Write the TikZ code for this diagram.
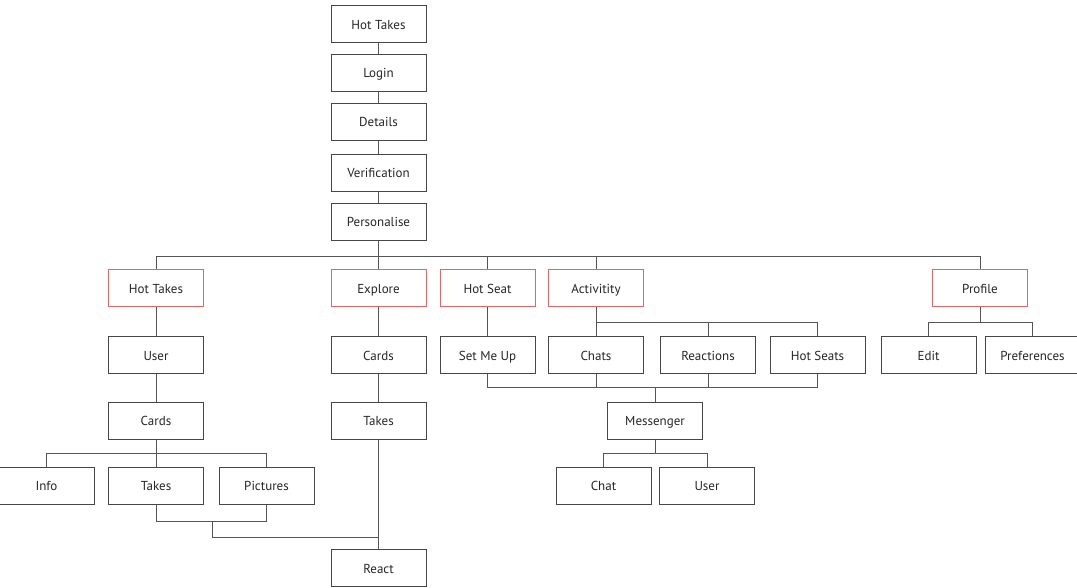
\documentclass[tikz,border=0pt]{standalone}
\usepackage{fontspec}
\setmainfont{PT Sans}
\definecolor{boxline}{RGB}{70,70,70}
\definecolor{wire}{RGB}{85,85,85}
\definecolor{redline}{RGB}{226,100,100}
\begin{document}
\begin{tikzpicture}[x=1pt,y=-1pt,
  box/.style={draw=boxline,line width=1pt,fill=white,minimum width=95pt,minimum height=37pt,inner sep=0pt,text height=11pt,text depth=1pt,font=\fontsize{13}{15}\selectfont,text=black!85},
  redbox/.style={box,draw=redline},
  wireline/.style={draw=wire,line width=1pt}]
\useasboundingbox (0,0) rectangle (1077,588);
% top column
\node[box] (ht0) at (378.5,24.5) {Hot Takes};
\node[box] (login) at (378.5,73) {Login};
\node[box] (details) at (378.5,122) {Details};
\node[box] (verif) at (378.5,173) {Verification};
\node[box] (pers) at (378.5,222) {Personalise};
% level 2
\node[redbox] (hot) at (156,288.5) {Hot Takes};
\node[redbox] (explore) at (378.5,288.5) {Explore};
\node[redbox] (hotseat) at (487.5,288.5) {Hot Seat};
\node[redbox] (activ) at (596,288.5) {Activitity};
\node[redbox] (profile) at (980,288.5) {Profile};
% level 3
\node[box] (user) at (156,355) {User};
\node[box] (cardsb) at (378.5,355) {Cards};
\node[box] (setme) at (487.5,355) {Set Me Up};
\node[box] (chats) at (596,355) {Chats};
\node[box] (reactions) at (708,355) {Reactions};
\node[box] (hotseats) at (817.5,355) {Hot Seats};
\node[box] (edit) at (928.5,355) {Edit};
\node[box] (prefs) at (1032.5,355) {Preferences};
% level 4
\node[box] (cardsa) at (156,420.5) {Cards};
\node[box] (takesb) at (378.5,420.5) {Takes};
\node[box] (messenger) at (655,420.5) {Messenger};
% level 5
\node[box] (info) at (46.5,485.5) {Info};
\node[box] (takesa) at (156,485.5) {Takes};
\node[box] (pictures) at (266.5,485.5) {Pictures};
\node[box] (chat) at (603.5,485.5) {Chat};
\node[box] (user2) at (707,485.5) {User};
\node[box] (react) at (378.5,568) {React};
% bus coordinates
\coordinate (bus1) at (0,257);
\coordinate (bus2) at (0,322);
\coordinate (bus3) at (0,387);
\coordinate (bus4) at (0,453);
\coordinate (bus5) at (0,521);
\coordinate (j1) at (212,521);
\coordinate (j2) at (212,537);
\begin{scope}[wireline]
\draw (ht0) -- (login);
\draw (login) -- (details);
\draw (details) -- (verif);
\draw (verif) -- (pers);
\draw (pers.south) -- (explore.north);
\draw (hot.north) -- (hot.north |- bus1) -- (profile.north |- bus1) -- (profile.north);
\draw (hotseat.north) -- (hotseat.north |- bus1);
\draw (activ.north) -- (activ.north |- bus1);
% hot takes column
\draw (hot) -- (user);
\draw (user) -- (cardsa);
\draw (cardsa.south) -- (takesa.north);
\draw (info.north) -- (info.north |- bus4) -- (pictures.north |- bus4) -- (pictures.north);
\draw (takesa.south) -- (takesa.south |- bus5) -- (pictures.south |- bus5) -- (pictures.south);
\draw (j1) -- (j2) -- (j2 -| react.north);
% explore column
\draw (explore) -- (cardsb);
\draw (cardsb) -- (takesb);
\draw (takesb) -- (react);
% hot seat / activity
\draw (hotseat) -- (setme);
\draw (activ.south) -- (chats.north);
\draw (chats.north |- bus2) -- (hotseats.north |- bus2) -- (hotseats.north);
\draw (reactions.north) -- (reactions.north |- bus2);
\draw (setme.south) -- (setme.south |- bus3) -- (hotseats.south |- bus3) -- (hotseats.south);
\draw (chats.south) -- (chats.south |- bus3);
\draw (reactions.south) -- (reactions.south |- bus3);
\draw (messenger.north) -- (messenger.north |- bus3);
\draw (chat.north) -- (chat.north |- bus4) -- (user2.north |- bus4) -- (user2.north);
\draw (messenger.south) -- (messenger.south |- bus4);
% profile
\draw (edit.north) -- (edit.north |- bus2) -- (prefs.north |- bus2) -- (prefs.north);
\draw (profile.south) -- (profile.south |- bus2);
\end{scope}
\end{tikzpicture}
\end{document}
